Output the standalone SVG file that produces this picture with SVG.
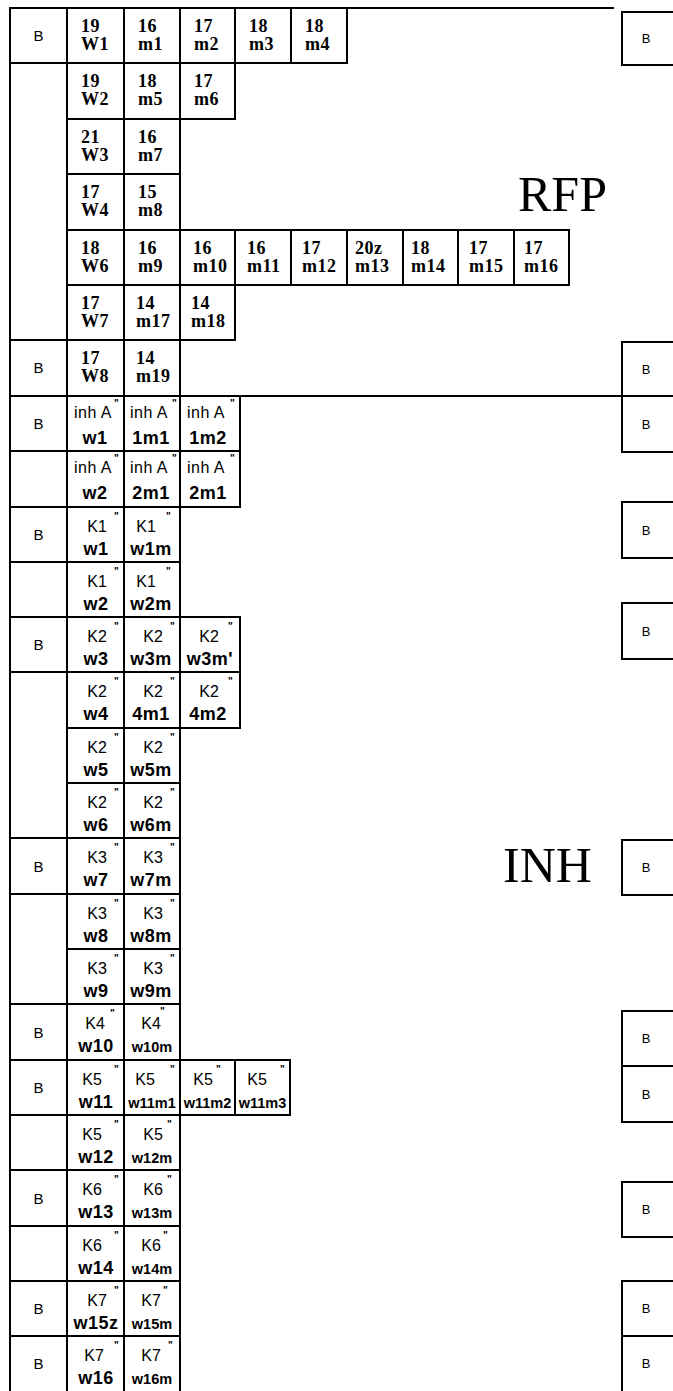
<svg xmlns="http://www.w3.org/2000/svg" width="673" height="1391" viewBox="0 0 673 1391">
<style>
.c{fill:#fff;stroke:#000;stroke-width:2}
.f{fill:none;stroke:#000;stroke-width:2}
.b{font-family:"Liberation Sans",Arial,sans-serif;font-size:15px;text-anchor:middle;fill:#000}
.rb{font-family:"Liberation Sans",Arial,sans-serif;font-size:13px;text-anchor:middle;fill:#000}
.r{font-family:"Liberation Serif","Times New Roman",serif;font-size:18px;font-weight:bold;letter-spacing:0.5px;fill:#000}
.k{font-family:"Liberation Sans",Arial,sans-serif;font-size:16px;text-anchor:middle;fill:#000}
.i{font-family:"Liberation Sans",Arial,sans-serif;font-size:16px;letter-spacing:0.5px;text-anchor:middle;fill:#000}
.w{font-family:"Liberation Sans",Arial,sans-serif;font-size:18px;font-weight:bold;letter-spacing:0.5px;text-anchor:middle;fill:#000}
.ws{font-family:"Liberation Sans",Arial,sans-serif;font-size:14.5px;font-weight:bold;text-anchor:middle;fill:#000}
.s{font-family:"Liberation Sans",Arial,sans-serif;font-size:10px;font-weight:bold;fill:#000}
.big{font-family:"Liberation Serif","Times New Roman",serif;font-size:50px;fill:#000}
</style>
<rect width="673" height="1391" fill="#fff"/>
<g id="connectors">
<line class="f" x1="10" y1="8" x2="614" y2="8"/>
<line class="f" x1="10" y1="8" x2="10" y2="1391"/>
<line class="f" x1="10" y1="396" x2="673" y2="396"/>
</g>
<g id="label-rfp"><text class="big" x="518" y="211">RFP</text></g>
<g id="label-inh"><text class="big" x="503" y="882">INH</text></g>

<!-- RFP section -->
<g id="rfp-b1"><rect class="c" x="10" y="8" width="57" height="55"/><text class="b" x="38.5" y="41">B</text></g>
<g id="rfp-w1"><rect class="c" x="67" y="8" width="57" height="55"/><text class="r" x="81" y="32">19</text><text class="r" x="81" y="50">W1</text></g>
<g id="rfp-m1"><rect class="c" x="124" y="8" width="56" height="55"/><text class="r" x="138" y="32">16</text><text class="r" x="138" y="50">m1</text></g>
<g id="rfp-m2"><rect class="c" x="180" y="8" width="55" height="55"/><text class="r" x="194" y="32">17</text><text class="r" x="194" y="50">m2</text></g>
<g id="rfp-m3"><rect class="c" x="235" y="8" width="56" height="55"/><text class="r" x="249" y="32">18</text><text class="r" x="249" y="50">m3</text></g>
<g id="rfp-m4"><rect class="c" x="291" y="8" width="56" height="55"/><text class="r" x="305" y="32">18</text><text class="r" x="305" y="50">m4</text></g>

<g id="rfp-bgap"><rect class="c" x="10" y="63" width="57" height="277"/></g>
<g id="rfp-w2"><rect class="c" x="67" y="63" width="57" height="56"/><text class="r" x="81" y="87">19</text><text class="r" x="81" y="105">W2</text></g>
<g id="rfp-m5"><rect class="c" x="124" y="63" width="56" height="56"/><text class="r" x="138" y="87">18</text><text class="r" x="138" y="105">m5</text></g>
<g id="rfp-m6"><rect class="c" x="180" y="63" width="55" height="56"/><text class="r" x="194" y="87">17</text><text class="r" x="194" y="105">m6</text></g>

<g id="rfp-w3"><rect class="c" x="67" y="119" width="57" height="55"/><text class="r" x="81" y="143">21</text><text class="r" x="81" y="161">W3</text></g>
<g id="rfp-m7"><rect class="c" x="124" y="119" width="56" height="55"/><text class="r" x="138" y="143">16</text><text class="r" x="138" y="161">m7</text></g>

<g id="rfp-w4"><rect class="c" x="67" y="174" width="57" height="56"/><text class="r" x="81" y="198">17</text><text class="r" x="81" y="216">W4</text></g>
<g id="rfp-m8"><rect class="c" x="124" y="174" width="56" height="56"/><text class="r" x="138" y="198">15</text><text class="r" x="138" y="216">m8</text></g>

<g id="rfp-w6"><rect class="c" x="67" y="230" width="57" height="55"/><text class="r" x="81" y="254">18</text><text class="r" x="81" y="272">W6</text></g>
<g id="rfp-m9"><rect class="c" x="124" y="230" width="56" height="55"/><text class="r" x="138" y="254">16</text><text class="r" x="138" y="272">m9</text></g>
<g id="rfp-m10"><rect class="c" x="180" y="230" width="55" height="55"/><text class="r" x="193" y="254">16</text><text class="r" x="193" y="272">m10</text></g>
<g id="rfp-m11"><rect class="c" x="235" y="230" width="56" height="55"/><text class="r" x="247" y="254">16</text><text class="r" x="247" y="272">m11</text></g>
<g id="rfp-m12"><rect class="c" x="291" y="230" width="56" height="55"/><text class="r" x="302" y="254">17</text><text class="r" x="302" y="272">m12</text></g>
<g id="rfp-m13"><rect class="c" x="347" y="230" width="56" height="55"/><text class="r" x="355" y="254">20z</text><text class="r" x="355" y="272">m13</text></g>
<g id="rfp-m14"><rect class="c" x="403" y="230" width="55" height="55"/><text class="r" x="411" y="254">18</text><text class="r" x="411" y="272">m14</text></g>
<g id="rfp-m15"><rect class="c" x="458" y="230" width="56" height="55"/><text class="r" x="469" y="254">17</text><text class="r" x="469" y="272">m15</text></g>
<g id="rfp-m16"><rect class="c" x="514" y="230" width="55" height="55"/><text class="r" x="524" y="254">17</text><text class="r" x="524" y="272">m16</text></g>

<g id="rfp-w7"><rect class="c" x="67" y="285" width="57" height="55"/><text class="r" x="81" y="309">17</text><text class="r" x="81" y="327">W7</text></g>
<g id="rfp-m17"><rect class="c" x="124" y="285" width="56" height="55"/><text class="r" x="136" y="309">14</text><text class="r" x="136" y="327">m17</text></g>
<g id="rfp-m18"><rect class="c" x="180" y="285" width="55" height="55"/><text class="r" x="191" y="309">14</text><text class="r" x="191" y="327">m18</text></g>

<g id="rfp-b7"><rect class="c" x="10" y="340" width="57" height="56"/><text class="b" x="38.5" y="373">B</text></g>
<g id="rfp-w8"><rect class="c" x="67" y="340" width="57" height="56"/><text class="r" x="81" y="364">17</text><text class="r" x="81" y="382">W8</text></g>
<g id="rfp-m19"><rect class="c" x="124" y="340" width="56" height="56"/><text class="r" x="136" y="364">14</text><text class="r" x="136" y="382">m19</text></g>

<!-- right-hand B boxes -->
<g id="rb1"><rect class="c" x="622" y="12" width="60" height="53"/><text class="rb" x="646" y="43">B</text></g>
<g id="rb2"><rect class="c" x="622" y="342" width="60" height="54"/><text class="rb" x="646" y="373.5">B</text></g>
<g id="rb3"><rect class="c" x="622" y="396" width="60" height="56"/><text class="rb" x="646" y="428.5">B</text></g>
<g id="rb4"><rect class="c" x="622" y="502" width="60" height="56"/><text class="rb" x="646" y="534.5">B</text></g>
<g id="rb5"><rect class="c" x="622" y="603" width="60" height="56"/><text class="rb" x="646" y="635.5">B</text></g>
<g id="rb6"><rect class="c" x="622" y="840" width="60" height="55"/><text class="rb" x="646" y="872">B</text></g>
<g id="rb7"><rect class="c" x="622" y="1011" width="60" height="55"/><text class="rb" x="646" y="1043">B</text></g>
<g id="rb8"><rect class="c" x="622" y="1066" width="60" height="56"/><text class="rb" x="646" y="1098.5">B</text></g>
<g id="rb9"><rect class="c" x="622" y="1182" width="60" height="55"/><text class="rb" x="646" y="1214">B</text></g>
<g id="rb10"><rect class="c" x="622" y="1281" width="60" height="55"/><text class="rb" x="646" y="1313">B</text></g>
<g id="rb11"><rect class="c" x="622" y="1336" width="60" height="56"/><text class="rb" x="646" y="1368">B</text></g>

<!-- INH section: B column -->
<g id="inh-b1"><rect class="c" x="10" y="396" width="57" height="55"/><text class="b" x="38.5" y="429">B</text></g>
<g id="inh-b2"><rect class="c" x="10" y="451" width="57" height="56"/></g>
<g id="inh-b3"><rect class="c" x="10" y="507" width="57" height="55"/><text class="b" x="38.5" y="540">B</text></g>
<g id="inh-b4"><rect class="c" x="10" y="562" width="57" height="55"/></g>
<g id="inh-b5"><rect class="c" x="10" y="617" width="57" height="55"/><text class="b" x="38.5" y="650">B</text></g>
<g id="inh-b6"><rect class="c" x="10" y="672" width="57" height="166"/></g>
<g id="inh-b9"><rect class="c" x="10" y="838" width="57" height="56"/><text class="b" x="38.5" y="871.5">B</text></g>
<g id="inh-b10"><rect class="c" x="10" y="894" width="57" height="110"/></g>
<g id="inh-b12"><rect class="c" x="10" y="1004" width="57" height="56"/><text class="b" x="38.5" y="1037.5">B</text></g>
<g id="inh-b13"><rect class="c" x="10" y="1060" width="57" height="55"/><text class="b" x="38.5" y="1093">B</text></g>
<g id="inh-b14"><rect class="c" x="10" y="1115" width="57" height="55"/></g>
<g id="inh-b15"><rect class="c" x="10" y="1170" width="57" height="56"/><text class="b" x="38.5" y="1203.5">B</text></g>
<g id="inh-b16"><rect class="c" x="10" y="1226" width="57" height="55"/></g>
<g id="inh-b17"><rect class="c" x="10" y="1281" width="57" height="55"/><text class="b" x="38.5" y="1314">B</text></g>
<g id="inh-b18"><rect class="c" x="10" y="1336" width="57" height="56"/><text class="b" x="38.5" y="1369">B</text></g>

<!-- INH cells -->
<g id="inh-a-w1"><rect class="c" x="67" y="396" width="57" height="55"/><text class="i" x="93" y="418">inh A</text><text class="s" x="114" y="407">"</text><text class="w" x="95" y="444">w1</text></g>
<g id="inh-a-1m1"><rect class="c" x="124" y="396" width="56" height="55"/><text class="i" x="149" y="418">inh A</text><text class="s" x="172" y="407">"</text><text class="w" x="151" y="444">1m1</text></g>
<g id="inh-a-1m2"><rect class="c" x="180" y="396" width="60" height="55"/><text class="i" x="206" y="418">inh A</text><text class="s" x="230" y="407">"</text><text class="w" x="208" y="444">1m2</text></g>

<g id="inh-a-w2"><rect class="c" x="67" y="451" width="57" height="56"/><text class="i" x="93" y="473">inh A</text><text class="s" x="114" y="462">"</text><text class="w" x="95" y="499">w2</text></g>
<g id="inh-a-2m1"><rect class="c" x="124" y="451" width="56" height="56"/><text class="i" x="149" y="473">inh A</text><text class="s" x="172" y="462">"</text><text class="w" x="151" y="499">2m1</text></g>
<g id="inh-a-2m1b"><rect class="c" x="180" y="451" width="60" height="56"/><text class="i" x="206" y="473">inh A</text><text class="s" x="230" y="462">"</text><text class="w" x="208" y="499">2m1</text></g>

<g id="k1-w1"><rect class="c" x="67" y="507" width="57" height="55"/><text class="k" x="97" y="532">K1</text><text class="s" x="114" y="520">"</text><text class="w" x="96" y="555">w1</text></g>
<g id="k1-w1m"><rect class="c" x="124" y="507" width="56" height="55"/><text class="k" x="146" y="532">K1</text><text class="s" x="166" y="520">"</text><text class="w" x="151" y="555">w1m</text></g>

<g id="k1-w2"><rect class="c" x="67" y="562" width="57" height="55"/><text class="k" x="97" y="587">K1</text><text class="s" x="114" y="575">"</text><text class="w" x="96" y="610">w2</text></g>
<g id="k1-w2m"><rect class="c" x="124" y="562" width="56" height="55"/><text class="k" x="146" y="587">K1</text><text class="s" x="166" y="575">"</text><text class="w" x="151" y="610">w2m</text></g>

<g id="k2-w3"><rect class="c" x="67" y="617" width="57" height="55"/><text class="k" x="97" y="642">K2</text><text class="s" x="114" y="630">"</text><text class="w" x="96" y="665">w3</text></g>
<g id="k2-w3m"><rect class="c" x="124" y="617" width="56" height="55"/><text class="k" x="153" y="642">K2</text><text class="s" x="170" y="630">"</text><text class="w" x="151" y="665">w3m</text></g>
<g id="k2-w3m2"><rect class="c" x="180" y="617" width="60" height="55"/><text class="k" x="209" y="642">K2</text><text class="s" x="228" y="630">"</text><text class="w" x="210" y="665">w3m'</text></g>

<g id="k2-w4"><rect class="c" x="67" y="672" width="57" height="56"/><text class="k" x="97" y="697">K2</text><text class="s" x="114" y="685">"</text><text class="w" x="96" y="720">w4</text></g>
<g id="k2-4m1"><rect class="c" x="124" y="672" width="56" height="56"/><text class="k" x="153" y="697">K2</text><text class="s" x="170" y="685">"</text><text class="w" x="151" y="720">4m1</text></g>
<g id="k2-4m2"><rect class="c" x="180" y="672" width="60" height="56"/><text class="k" x="209" y="697">K2</text><text class="s" x="228" y="685">"</text><text class="w" x="208" y="720">4m2</text></g>

<g id="k2-w5"><rect class="c" x="67" y="728" width="57" height="55"/><text class="k" x="97" y="753">K2</text><text class="s" x="114" y="741">"</text><text class="w" x="96" y="776">w5</text></g>
<g id="k2-w5m"><rect class="c" x="124" y="728" width="56" height="55"/><text class="k" x="153" y="753">K2</text><text class="s" x="170" y="741">"</text><text class="w" x="151" y="776">w5m</text></g>

<g id="k2-w6"><rect class="c" x="67" y="783" width="57" height="55"/><text class="k" x="97" y="808">K2</text><text class="s" x="114" y="796">"</text><text class="w" x="96" y="831">w6</text></g>
<g id="k2-w6m"><rect class="c" x="124" y="783" width="56" height="55"/><text class="k" x="153" y="808">K2</text><text class="s" x="170" y="796">"</text><text class="w" x="151" y="831">w6m</text></g>

<g id="k3-w7"><rect class="c" x="67" y="838" width="57" height="56"/><text class="k" x="97" y="863">K3</text><text class="s" x="114" y="851">"</text><text class="w" x="96" y="886">w7</text></g>
<g id="k3-w7m"><rect class="c" x="124" y="838" width="56" height="56"/><text class="k" x="153" y="863">K3</text><text class="s" x="170" y="851">"</text><text class="w" x="151" y="886">w7m</text></g>

<g id="k3-w8"><rect class="c" x="67" y="894" width="57" height="55"/><text class="k" x="97" y="919">K3</text><text class="s" x="114" y="907">"</text><text class="w" x="96" y="942">w8</text></g>
<g id="k3-w8m"><rect class="c" x="124" y="894" width="56" height="55"/><text class="k" x="153" y="919">K3</text><text class="s" x="170" y="907">"</text><text class="w" x="151" y="942">w8m</text></g>

<g id="k3-w9"><rect class="c" x="67" y="949" width="57" height="55"/><text class="k" x="97" y="974">K3</text><text class="s" x="114" y="962">"</text><text class="w" x="96" y="997">w9</text></g>
<g id="k3-w9m"><rect class="c" x="124" y="949" width="56" height="55"/><text class="k" x="153" y="974">K3</text><text class="s" x="170" y="962">"</text><text class="w" x="151" y="997">w9m</text></g>

<g id="k4-w10"><rect class="c" x="67" y="1004" width="57" height="56"/><text class="k" x="95" y="1029">K4</text><text class="s" x="110" y="1017">"</text><text class="w" x="96" y="1052">w10</text></g>
<g id="k4-w10m"><rect class="c" x="124" y="1004" width="56" height="56"/><text class="k" x="151" y="1029">K4</text><text class="s" x="160" y="1015">"</text><text class="ws" x="152" y="1052">w10m</text></g>

<g id="k5-w11"><rect class="c" x="67" y="1060" width="57" height="55"/><text class="k" x="92" y="1085">K5</text><text class="s" x="114" y="1073">"</text><text class="w" x="96" y="1108">w11</text></g>
<g id="k5-w11m1"><rect class="c" x="124" y="1060" width="56" height="55"/><text class="k" x="145" y="1085">K5</text><text class="s" x="170" y="1073">"</text><text class="ws" x="152" y="1108">w11m1</text></g>
<g id="k5-w11m2"><rect class="c" x="180" y="1060" width="55" height="55"/><text class="k" x="203" y="1085">K5</text><text class="s" x="216" y="1073">"</text><text class="ws" x="207.5" y="1108">w11m2</text></g>
<g id="k5-w11m3"><rect class="c" x="235" y="1060" width="55" height="55"/><text class="k" x="257" y="1085">K5</text><text class="s" x="280" y="1073">"</text><text class="ws" x="262.5" y="1108">w11m3</text></g>

<g id="k5-w12"><rect class="c" x="67" y="1115" width="57" height="55"/><text class="k" x="92" y="1140">K5</text><text class="s" x="114" y="1128">"</text><text class="w" x="96" y="1163">w12</text></g>
<g id="k5-w12m"><rect class="c" x="124" y="1115" width="56" height="55"/><text class="k" x="153" y="1140">K5</text><text class="s" x="167" y="1128">"</text><text class="ws" x="152" y="1163">w12m</text></g>

<g id="k6-w13"><rect class="c" x="67" y="1170" width="57" height="56"/><text class="k" x="92" y="1195">K6</text><text class="s" x="114" y="1183">"</text><text class="w" x="96" y="1218">w13</text></g>
<g id="k6-w13m"><rect class="c" x="124" y="1170" width="56" height="56"/><text class="k" x="153" y="1195">K6</text><text class="s" x="167" y="1183">"</text><text class="ws" x="152" y="1218">w13m</text></g>

<g id="k6-w14"><rect class="c" x="67" y="1226" width="57" height="55"/><text class="k" x="92" y="1251">K6</text><text class="s" x="114" y="1239">"</text><text class="w" x="96" y="1274">w14</text></g>
<g id="k6-w14m"><rect class="c" x="124" y="1226" width="56" height="55"/><text class="k" x="151" y="1251">K6</text><text class="s" x="163" y="1239">"</text><text class="ws" x="152" y="1274">w14m</text></g>

<g id="k7-w15z"><rect class="c" x="67" y="1281" width="57" height="55"/><text class="k" x="97" y="1306">K7</text><text class="s" x="114" y="1294">"</text><text class="w" x="96" y="1329">w15z</text></g>
<g id="k7-w15m"><rect class="c" x="124" y="1281" width="56" height="55"/><text class="k" x="151" y="1306">K7</text><text class="s" x="163" y="1294">"</text><text class="ws" x="152" y="1329">w15m</text></g>

<g id="k7-w16"><rect class="c" x="67" y="1336" width="57" height="56"/><text class="k" x="94" y="1361">K7</text><text class="s" x="114" y="1349">"</text><text class="w" x="96" y="1384">w16</text></g>
<g id="k7-w16m"><rect class="c" x="124" y="1336" width="56" height="56"/><text class="k" x="151" y="1361">K7</text><text class="s" x="168" y="1349">"</text><text class="ws" x="152" y="1384">w16m</text></g>
</svg>
